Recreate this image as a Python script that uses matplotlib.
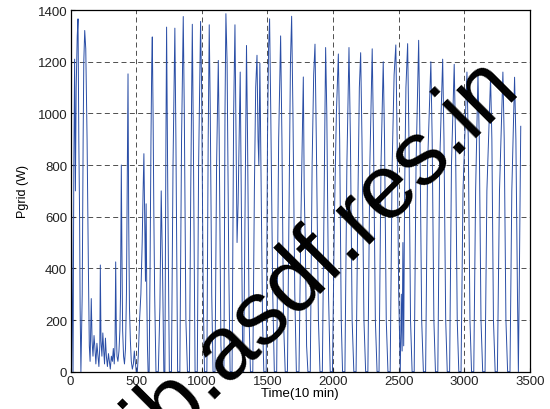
import matplotlib
matplotlib.use('Agg')
import matplotlib.pyplot as plt

# time in 10-min steps, grid power in W (vertices)
t_min = [0, 6, 12, 18, 24, 30, 36, 42, 50, 56, 62, 68, 72, 78, 88, 95, 100, 107, 115, 125,
         135, 142, 148, 157, 163, 170, 178, 185, 192, 200, 208, 215, 222, 226, 231, 238, 245,
         252, 258, 265, 272, 280, 288, 295, 302, 310, 318, 325, 332, 338, 343, 348, 353, 360,
         368, 375, 380, 386, 390, 396, 403, 410, 418, 425, 431, 437, 442, 448, 455, 462, 470,
         478, 485, 492, 500, 508, 515, 525, 535, 545, 552, 558, 564, 570, 575, 580, 585, 590,
         598, 605, 612, 618, 622, 628, 634, 640, 650, 668, 680, 690, 700, 710, 718, 726, 731,
         740, 752, 768, 780, 794, 802, 815, 832, 845, 858, 866, 878, 890, 905, 915, 927, 935,
         948, 965, 975, 990, 998, 1010, 1020, 1038, 1048, 1056, 1064, 1075, 1085, 1100, 1112,
         1125, 1132, 1145, 1155, 1168, 1176, 1183, 1192, 1205, 1215, 1230, 1242, 1252, 1260,
         1268, 1276, 1284, 1292, 1300, 1310, 1318, 1330, 1340, 1348, 1360, 1370, 1388, 1400,
         1410, 1420, 1428, 1434, 1442, 1450, 1462, 1472, 1490, 1500, 1508, 1516, 1525, 1540,
         1552, 1570, 1585, 1600, 1610, 1622, 1635, 1652, 1665, 1675, 1684, 1694, 1708, 1720,
         1740, 1755, 1765, 1773, 1780, 1788, 1798, 1808, 1826, 1840, 1852, 1862, 1872, 1888,
         1900, 1918, 1932, 1943, 1952, 1965, 1978, 1995, 2010, 2025, 2040, 2050, 2062, 2072,
         2090, 2105, 2121, 2132, 2145, 2158, 2175, 2190, 2200, 2210, 2220, 2235, 2248, 2265,
         2280, 2298, 2308, 2322, 2335, 2350, 2365, 2382, 2392, 2405, 2418, 2435, 2450, 2465,
         2478, 2488, 2500, 2512, 2520, 2526, 2532, 2538, 2545, 2555, 2568, 2578, 2590, 2602,
         2618, 2632, 2652, 2662, 2675, 2688, 2705, 2720, 2745, 2755, 2768, 2780, 2798, 2812,
         2835, 2845, 2858, 2870, 2888, 2902, 2923, 2933, 2946, 2958, 2975, 2990, 3020, 3030,
         3043, 3055, 3072, 3086, 3104, 3114, 3127, 3140, 3158, 3172, 3200, 3210, 3222, 3235,
         3252, 3268, 3294, 3304, 3317, 3330, 3348, 3362, 3383, 3393, 3405, 3412, 3420, 3430]
p_grid = [1170, 700, 300, 0, 800, 1210, 700, 1100, 1300, 1366, 900, 600, 250, 0, 300, 900, 1200,
          1321, 1250, 900, 400, 100, 40, 283, 120, 60, 140, 90, 30, 110, 60, 20, 100, 413, 120,
          60, 150, 80, 30, 130, 60, 20, 70, 40, 10, 60, 40, 90, 30, 100, 425, 150, 60, 40, 80,
          160, 300, 800, 500, 160, 60, 30, 90, 300, 700, 1153, 600, 250, 120, 40, 10, 30, 80,
          40, 0, 0, 60, 200, 300, 500, 700, 844, 600, 350, 650, 300, 100, 0, 0, 400, 900, 1200,
          1296, 1000, 600, 300, 0, 0, 250, 700, 400, 0, 0, 900, 1334, 700, 0, 0, 800, 1330, 900,
          0, 0, 900, 1375, 1000, 200, 0, 0, 700, 1345, 900, 0, 0, 800, 1356, 1100, 300, 0, 0,
          900, 1343, 1000, 300, 0, 0, 800, 1205, 900, 100, 0, 0, 1000, 1386, 1200, 400, 0, 0,
          1000, 1343, 900, 500, 650, 900, 1160, 700, 100, 0, 700, 1263, 900, 200, 0, 0, 700,
          1100, 1225, 900, 800, 1195, 800, 200, 0, 0, 900, 1250, 1366, 1000, 300, 0, 0, 900,
          1300, 900, 200, 0, 0, 700, 1200, 1376, 1000, 300, 0, 0, 600, 900, 1141, 700, 500, 100,
          0, 0, 800, 1150, 1268, 900, 200, 0, 0, 700, 1255, 1000, 300, 0, 0, 600, 1000, 1230,
          900, 200, 0, 0, 800, 1255, 900, 200, 0, 0, 700, 1100, 1235, 900, 200, 0, 0, 800, 1250,
          900, 200, 0, 0, 800, 1200, 900, 200, 0, 0, 800, 1150, 1265, 900, 300, 0, 300, 80, 500,
          100, 700, 1100, 1270, 900, 200, 0, 0, 800, 1283, 900, 200, 0, 0, 800, 1200, 900, 200,
          0, 0, 800, 1210, 900, 200, 0, 0, 800, 1190, 900, 200, 0, 0, 700, 1160, 900, 200, 0, 0,
          700, 1150, 900, 200, 0, 0, 700, 1141, 900, 200, 0, 0, 700, 1160, 900, 200, 0, 0, 700,
          1140, 900, 300, 0, 400, 950]

x_ticks = [0, 500, 1000, 1500, 2000, 2500, 3000, 3500]
y_ticks = [0, 200, 400, 600, 800, 1000, 1200, 1400]

plt.rcParams['font.family'] = ['Liberation Sans', 'DejaVu Sans']

fig = plt.figure(figsize=(5.5, 4.1), dpi=100)
ax = fig.add_axes([0.1285, 0.091, 0.835, 0.882])

ax.plot(t_min, p_grid, color='#2a4ea6', linewidth=0.7)

ax.set_xlim(0, 3500)
ax.set_ylim(0, 1400)
ax.set_xticks(x_ticks)
ax.set_yticks(y_ticks)
ax.tick_params(direction='in', length=3, labelsize=9.5, colors='#222222', pad=2.5)
ax.grid(True, color='#333333', linestyle=(0, (6, 4)), linewidth=0.6)
for s in ax.spines.values():
    s.set_linewidth(0.9)

ax.set_xlabel('Time(10 min)', fontsize=9.5, labelpad=0)
ax.set_ylabel('Pgrid (W)', fontsize=9, labelpad=6)

# watermark over the plot
fig.text(0.287, -0.098, 'ib.asdf.res.in', fontsize=65, color='black',
         rotation=45, rotation_mode='anchor', ha='left', va='baseline')

fig.savefig('out.png', dpi=100)
